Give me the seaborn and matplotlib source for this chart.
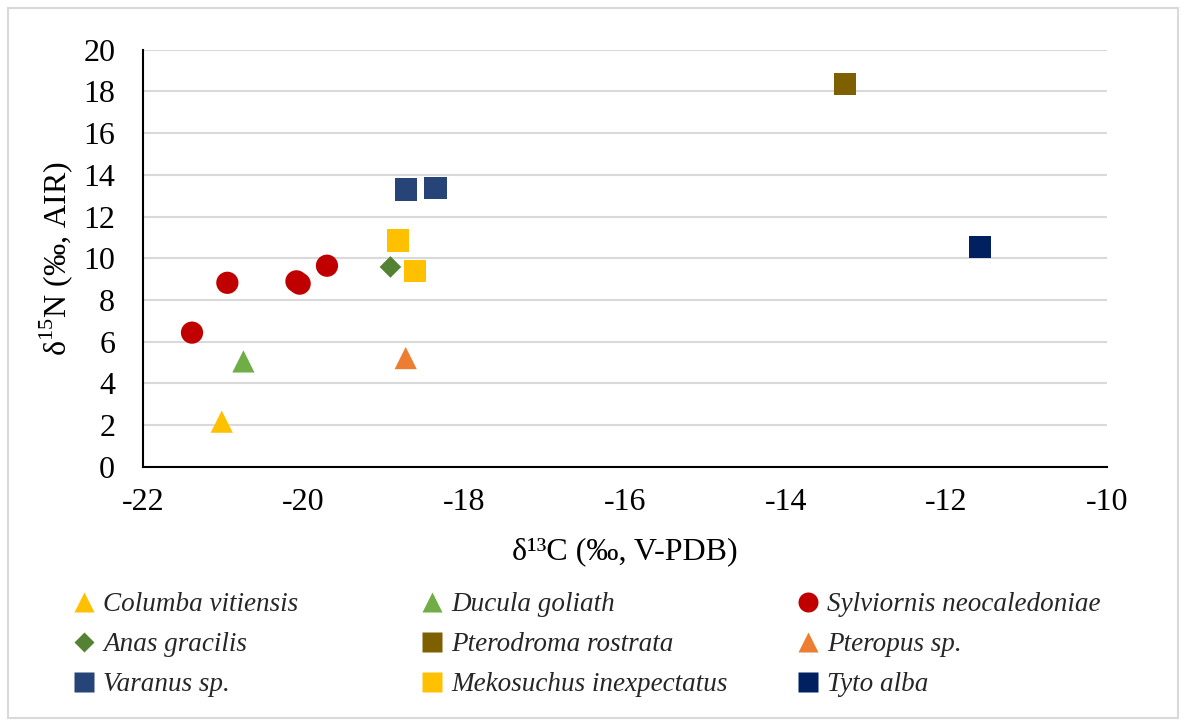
import matplotlib
matplotlib.use("Agg")
import matplotlib.pyplot as plt
from matplotlib.patches import Rectangle
from matplotlib.lines import Line2D
from matplotlib.font_manager import FontProperties
import seaborn as sns
import pandas as pd

# Species in legend order (row by row)
species = [
    "Columba vitiensis", "Ducula goliath", "Sylviornis neocaledoniae",
    "Anas gracilis", "Pterodroma rostrata", "Pteropus sp.",
    "Varanus sp.", "Mekosuchus inexpectatus", "Tyto alba",
]

# δ13C and δ15N values per species
d13c = {
    "Columba vitiensis": [-21.02],
    "Ducula goliath": [-20.75],
    "Sylviornis neocaledoniae": [-21.39, -20.95, -20.09, -20.05, -19.71],
    "Anas gracilis": [-18.92],
    "Pterodroma rostrata": [-13.26],
    "Pteropus sp.": [-18.73],
    "Varanus sp.": [-18.73, -18.36],
    "Mekosuchus inexpectatus": [-18.83, -18.61],
    "Tyto alba": [-11.58],
}
d15n = {
    "Columba vitiensis": [2.16],
    "Ducula goliath": [5.05],
    "Sylviornis neocaledoniae": [6.43, 8.82, 8.89, 8.78, 9.64],
    "Anas gracilis": [9.58],
    "Pterodroma rostrata": [18.34],
    "Pteropus sp.": [5.21],
    "Varanus sp.": [13.30, 13.37],
    "Mekosuchus inexpectatus": [10.85, 9.37],
    "Tyto alba": [10.54],
}

colors = {
    "Columba vitiensis": "#FFC000",
    "Ducula goliath": "#70AD47",
    "Sylviornis neocaledoniae": "#C00000",
    "Anas gracilis": "#548235",
    "Pterodroma rostrata": "#7F6000",
    "Pteropus sp.": "#ED7D31",
    "Varanus sp.": "#264478",
    "Mekosuchus inexpectatus": "#FFC000",
    "Tyto alba": "#002060",
}
markers = {
    "Columba vitiensis": "^",
    "Ducula goliath": "^",
    "Sylviornis neocaledoniae": "o",
    "Anas gracilis": "D",
    "Pterodroma rostrata": "s",
    "Pteropus sp.": "^",
    "Varanus sp.": "s",
    "Mekosuchus inexpectatus": "s",
    "Tyto alba": "s",
}
msize = {"^": 16, "o": 16, "s": 16, "D": 11}

rows = []
for sp in species:
    for x, y in zip(d13c[sp], d15n[sp]):
        rows.append({"species": sp, "d13C": x, "d15N": y})
df = pd.DataFrame(rows)

sns.set_theme(style="white")
SERIF = ["Liberation Serif", "DejaVu Serif"]
plt.rcParams["font.family"] = SERIF
plt.rcParams["mathtext.fontset"] = "custom"
plt.rcParams["mathtext.rm"] = "Liberation Serif"

fig = plt.figure(figsize=(11.86, 7.26), dpi=100)
ax = fig.add_axes([143 / 1186, 1 - 466.7 / 726, (1107 - 143) / 1186, (466.7 - 49.7) / 726])

for sp in species:
    sub = df[df["species"] == sp]
    m = markers[sp]
    sns.scatterplot(data=sub, x="d13C", y="d15N", ax=ax, color=colors[sp],
                    marker=m, s=msize[m] ** 2, edgecolor="none", legend=False,
                    zorder=3)

ax.set_xlim(-22, -10)
ax.set_ylim(0, 20)
ax.set_xticks(range(-22, -9, 2))
ax.set_yticks(range(0, 21, 2))
tick_font = FontProperties(family=SERIF, size=23)
ax.set_xticklabels([str(v) for v in range(-22, -9, 2)], fontproperties=tick_font)
ax.set_yticklabels([str(v) for v in range(0, 21, 2)], fontproperties=tick_font)
ax.yaxis.grid(True, color="#D9D9D9", linewidth=1.5, zorder=0)
ax.xaxis.grid(False)
ax.set_axisbelow(True)
for side in ("top", "right"):
    ax.spines[side].set_visible(False)
for side in ("left", "bottom"):
    ax.spines[side].set_color("black")
    ax.spines[side].set_linewidth(1.5)
ax.tick_params(axis="both", length=0, colors="black")
ax.tick_params(axis="y", pad=20)
ax.tick_params(axis="x", pad=15)

label_font = FontProperties(family=SERIF, size=23)
ax.set_xlabel("δ¹³C (‰, V-PDB)", fontproperties=label_font, color="black", labelpad=15)
ax.set_ylabel("δ$^{15}$N (‰, AIR)", fontproperties=label_font, color="black", labelpad=6)

# Legend: three columns placed side by side
legend_font = FontProperties(family=SERIF, style="italic", size=19.5)
col_x = [72, 420, 796]
for c in range(3):
    entries = species[c::3]
    handles = [Line2D([], [], linestyle="none", marker=markers[sp],
                      markersize=msize[markers[sp]] * 0.9,
                      markerfacecolor=colors[sp], markeredgecolor="none")
               for sp in entries]
    fig.legend(handles, entries, loc="upper left",
               bbox_to_anchor=(col_x[c] / 1186, 1 - 592 / 726),
               frameon=False, prop=legend_font,
               handlelength=0.85, handletextpad=0.3, labelspacing=0.56,
               borderaxespad=0, borderpad=0)

fig.patches.append(Rectangle((8 / 1186, 8 / 726), 1170 / 1186, 710 / 726,
                             transform=fig.transFigure, fill=False,
                             edgecolor="#D9D9D9", linewidth=1.5))

fig.savefig("out.png", dpi=100, facecolor="white")
